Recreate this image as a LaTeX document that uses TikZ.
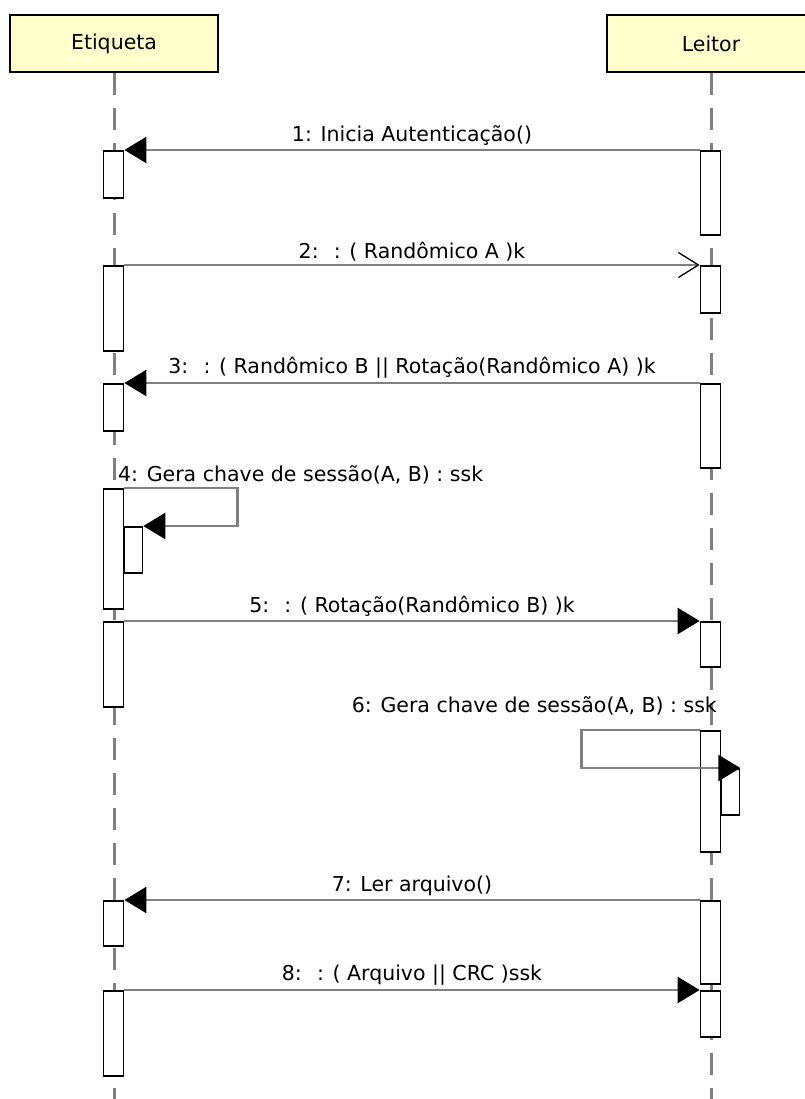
\documentclass[tikz,border=0pt]{standalone}
\usepackage{fontspec}
\setmainfont{DejaVu Sans}
\usetikzlibrary{arrows.meta, positioning, calc}

\definecolor{hdrfill}{RGB}{255,255,204}
\definecolor{linegray}{RGB}{128,128,128}

\begin{document}
\begin{tikzpicture}[
  x=1pt, y=-1pt,
  lbl/.style={font=\fontsize{20.5}{24}\selectfont, inner sep=3pt},
  head/.style={draw, line width=2.5pt, fill=hdrfill, minimum width=208pt,
    minimum height=57pt, inner sep=0pt, font=\fontsize{20.5}{24}\selectfont},
  life/.style={draw=linegray, line width=3pt, dash pattern=on 22pt off 13pt},
  act/.style={draw, fill=white, line width=1.8pt, minimum width=20pt,
    inner sep=0pt, anchor=north},
  actin/.style={act, anchor=north west, minimum width=18pt, minimum height=46pt},
  msg/.style={draw=linegray, line width=2.5pt},
  solidtip/.style={-{Triangle[length=22pt, width=26pt, color=black]}},
  barbtip/.style={-{Straight Barb[length=20pt, width=25pt, line width=1.3pt, color=black]}},
]
  \useasboundingbox (0,0) rectangle (804,1099);

  % Lifeline heads
  \node[head] (etq) at (114,43.5) {Etiqueta};
  \node[head] (ltr) at (711,43.5) {Leitor};

  % Lifelines
  \coordinate (bot) at (0,1099);
  \draw[life] (etq.south) -- (etq.south |- bot);
  \draw[life] (ltr.south) -- (ltr.south |- bot);

  % Activations: Etiqueta
  \node[act, minimum height=47pt]  (e1) at (113.5,150) {};
  \node[act, minimum height=85pt]  (e2) at (113.5,265) {};
  \node[act, minimum height=47pt]  (e3) at (113.5,383) {};
  \node[act, minimum height=120pt] (e4) at (113.5,488) {};
  \node[actin] (e4n) at (123.5,526) {};
  \node[act, minimum height=85pt]  (e5) at (113.5,621) {};
  \node[act, minimum height=45pt]  (e6) at (113.5,900) {};
  \node[act, minimum height=85pt]  (e7) at (113.5,990) {};

  % Activations: Leitor
  \node[act, minimum height=84pt]  (l1) at (710.5,150) {};
  \node[act, minimum height=47pt]  (l2) at (710.5,265) {};
  \node[act, minimum height=84pt]  (l3) at (710.5,383) {};
  \node[act, minimum height=45pt]  (l4) at (710.5,621) {};
  \node[act, minimum height=121pt] (l5) at (710.5,730) {};
  \node[actin] (l5n) at (720.5,768) {};
  \node[act, minimum height=83pt]  (l6) at (710.5,900) {};
  \node[act, minimum height=46pt]  (l7) at (710.5,990) {};

  % Messages
  \draw[msg, solidtip] (l1.north west) -- node[lbl, above] (m1) {1: Inicia Autenticação()} (e1.north east);
  \draw[msg, barbtip] (e2.north east) -- node[lbl, above] (m2) {2: \ : ( Randômico A )k} (l2.north west);
  \draw[msg, solidtip] (l3.north west) -- node[lbl, above] (m3) {3: \ : ( Randômico B || Rotação(Randômico A) )k} (e3.north east);

  % Self message on Etiqueta
  \node[lbl, anchor=base west] (m4) at (115,481) {4: Gera chave de sessão(A, B) : ssk};
  \draw[msg, solidtip] (e4.north east) -- ++(113,0) |- (e4n.north east);

  \draw[msg, solidtip] (e5.north east) -- node[lbl, above] (m5) {5: \ : ( Rotação(Randômico B) )k} (l4.north west);

  % Self message on Leitor
  \node[lbl, anchor=base east] (m6) at (720,712) {6: Gera chave de sessão(A, B) : ssk};
  \draw[msg, solidtip] (l5.north west) -- ++(-118,0) |- (l5n.north east);

  \draw[msg, solidtip] (l6.north west) -- node[lbl, above] (m7) {7: Ler arquivo()} (e6.north east);
  \draw[msg, solidtip] (e7.north east) -- node[lbl, above] (m8) {8: \ : ( Arquivo || CRC )ssk} (l7.north west);
\end{tikzpicture}
\end{document}
